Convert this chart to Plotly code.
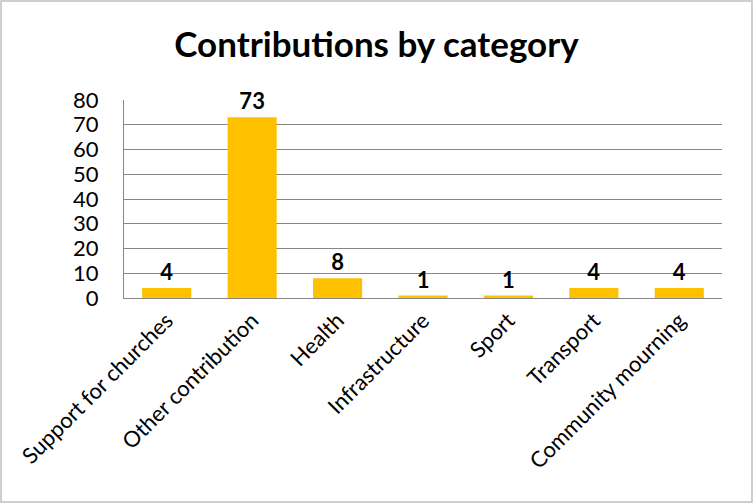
import plotly.graph_objects as go

categories = ["Support for churches", "Other contribution", "Health", "Infrastructure",
              "Sport", "Transport", "Community mourning"]
values = [4, 73, 8, 1, 1, 4, 4]
y_ticks = [0, 10, 20, 30, 40, 50, 60, 70, 80]

W, H = 753, 503
L, R, T, B = 124, 31, 100, 205
pw, ph = W - L - R, H - T - B
FONT = "Lato, Open Sans, sans-serif"

fig = go.Figure(go.Bar(
    x=categories, y=values,
    marker=dict(color="#FFC000", line=dict(width=0)),
    text=[str(v) for v in values], textposition="outside",
    textfont=dict(family=FONT, size=22, color="black", weight="bold"),
    cliponaxis=False,
))

fig.update_layout(
    width=W, height=H,
    margin=dict(l=L, r=R, t=T, b=B),
    paper_bgcolor="white", plot_bgcolor="white",
    bargap=0.425,
    showlegend=False,
    title=dict(text="<b>Contributions by category</b>", x=0.5, xref="container",
               xanchor="center", y=1 - 45 / H, yanchor="middle",
               font=dict(family=FONT, size=35, color="black")),
    font=dict(family=FONT, color="black"),
    xaxis=dict(tickangle=-45, tickfont=dict(size=22, color="black"),
               showline=True, linecolor="#868686", linewidth=1, ticks="",
               showgrid=False),
    yaxis=dict(range=[0, 80], tickvals=y_ticks, tickfont=dict(size=22, color="black"),
               showgrid=True, gridcolor="#868686", gridwidth=1,
               showline=True, linecolor="#868686", linewidth=1, ticks="",
               zeroline=False, ticklabelstandoff=20),
)

fig.add_shape(type="rect", xref="paper", yref="paper",
              x0=(1 - L) / pw, x1=(W - 1 - L) / pw,
              y0=(H - B - (H - 1)) / ph, y1=(H - B - 1) / ph,
              line=dict(color="#BFBFBF", width=1.5), fillcolor="rgba(0,0,0,0)", layer="above")

fig.write_html("out.html", config={"displayModeBar": False},
               post_script="document.body.style.margin='0';")
